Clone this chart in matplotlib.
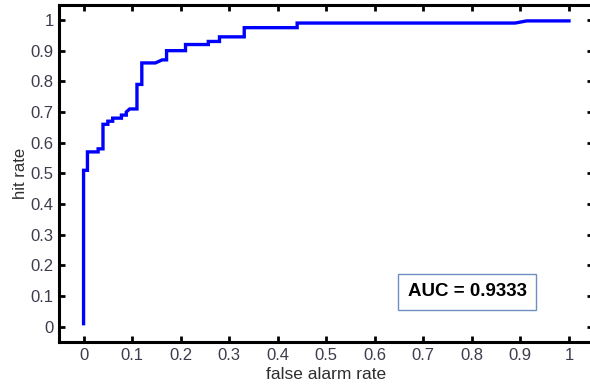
import matplotlib
matplotlib.use("Agg")
import matplotlib.pyplot as plt

# ROC curve points (false alarm rate, hit rate)
far = [0.0, 0.0, 0.008, 0.008, 0.03, 0.03, 0.04, 0.04, 0.05, 0.05, 0.06, 0.06,
       0.078, 0.078, 0.088, 0.088, 0.095, 0.11, 0.11, 0.12, 0.12, 0.148,
       0.162, 0.171, 0.171, 0.21, 0.21, 0.257, 0.257, 0.267, 0.28, 0.28,
       0.331, 0.331, 0.44, 0.44, 0.889, 0.913, 1.0]
hit = [0.01, 0.51, 0.51, 0.57, 0.57, 0.58, 0.58, 0.66, 0.66, 0.67, 0.67, 0.68,
       0.68, 0.69, 0.69, 0.70, 0.71, 0.71, 0.79, 0.79, 0.86, 0.86,
       0.87, 0.87, 0.90, 0.90, 0.92, 0.92, 0.93, 0.93, 0.93, 0.945,
       0.945, 0.975, 0.975, 0.99, 0.99, 0.997, 0.997]
auc_value = 0.9333
ticks = [0, 0.1, 0.2, 0.3, 0.4, 0.5, 0.6, 0.7, 0.8, 0.9, 1]
tick_labels = ["0", "0.1", "0.2", "0.3", "0.4", "0.5", "0.6", "0.7", "0.8", "0.9", "1"]

plt.rcParams['font.family'] = ['Liberation Sans', 'DejaVu Sans']

fig = plt.figure(figsize=(5.9, 3.87), dpi=100)
ax = fig.add_axes([0.1005, 0.116, 0.905, 0.872])

ax.plot(far, hit, color='#0000ff', linewidth=2.4, solid_joinstyle='miter')

ax.set_xlim(-0.05, 1.05)
ax.set_ylim(-0.05, 1.05)
ax.set_xticks(ticks)
ax.set_xticklabels(tick_labels)
ax.set_yticks(ticks)
ax.set_yticklabels(tick_labels)
ax.tick_params(direction='in', top=True, right=True, length=4, width=2,
               labelsize=12, labelcolor='#3c3c4c', pad=4)
for s in ax.spines.values():
    s.set_linewidth(2.2)

ax.set_xlabel("false alarm rate", fontsize=12.5, color='#2e2e2e', labelpad=3)
ax.set_ylabel("hit rate", fontsize=12, color='#2e2e2e', labelpad=2)

ax.text(0.79, 0.114, f"AUC = {auc_value:.4f}", fontsize=13.5, fontweight='bold',
        color='black', ha='center', va='center',
        bbox=dict(boxstyle='square,pad=0.5', facecolor='white',
                  edgecolor='#6f8fc4', linewidth=1.0))

fig.savefig("out.png", dpi=100)
